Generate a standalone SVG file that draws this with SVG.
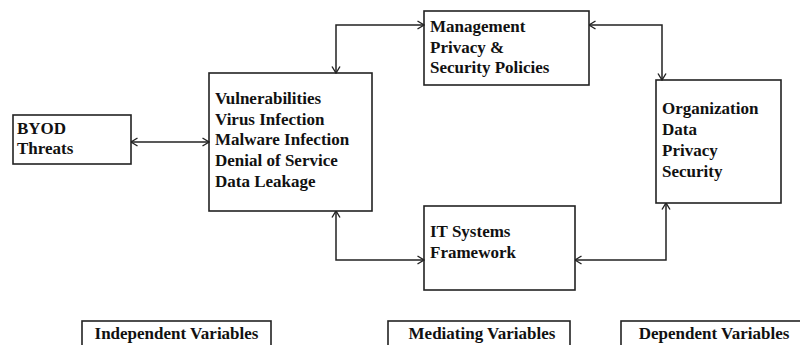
<svg xmlns="http://www.w3.org/2000/svg" width="800" height="345" viewBox="0 0 800 345">
<style>
.box{fill:#fff;stroke:#222;stroke-width:1.6}
.t{font-family:"Liberation Serif","Times New Roman",serif;font-weight:bold;font-size:17px;fill:#111}
.c{fill:none;stroke:#222;stroke-width:1.5}
</style>
<defs>
<marker id="a" viewBox="0 0 8 10" refX="7.5" refY="5" markerWidth="8" markerHeight="10" markerUnits="userSpaceOnUse" orient="auto-start-reverse">
<path d="M1,1 L7.5,5 L1,9" fill="none" stroke="#222" stroke-width="1.4"/>
</marker>
</defs>
<rect width="800" height="345" fill="#fff"/>
<g id="byod">
<rect class="box" x="13" y="115" width="118" height="49"/>
<text class="t" x="17" y="134">BYOD</text>
<text class="t" x="17" y="154">Threats</text>
</g>
<g id="threats">
<rect class="box" x="209" y="73" width="163" height="138"/>
<text class="t" x="215" y="104">Vulnerabilities</text>
<text class="t" x="215" y="125">Virus Infection</text>
<text class="t" x="215" y="145">Malware Infection</text>
<text class="t" x="215" y="166">Denial of Service</text>
<text class="t" x="215" y="187">Data Leakage</text>
</g>
<g id="management">
<rect class="box" x="424" y="11" width="165" height="74"/>
<text class="t" x="430" y="32">Management</text>
<text class="t" x="430" y="53">Privacy &amp;</text>
<text class="t" x="430" y="73">Security Policies</text>
</g>
<g id="itsystems">
<rect class="box" x="424" y="206" width="151" height="84"/>
<text class="t" x="430" y="237">IT Systems</text>
<text class="t" x="430" y="258">Framework</text>
</g>
<g id="organization">
<rect class="box" x="656" y="80" width="125" height="123"/>
<text class="t" x="662" y="114">Organization</text>
<text class="t" x="662" y="135">Data</text>
<text class="t" x="662" y="156">Privacy</text>
<text class="t" x="662" y="177">Security</text>
</g>
<g id="independent">
<rect class="box" x="82" y="321" width="189" height="40"/>
<text class="t" x="176.5" y="339" text-anchor="middle">Independent Variables</text>
</g>
<g id="mediating">
<rect class="box" x="388" y="321" width="182" height="40"/>
<text class="t" x="482" y="339" text-anchor="middle">Mediating Variables</text>
</g>
<g id="dependent">
<rect class="box" x="621" y="321" width="200" height="40"/>
<text class="t" x="714" y="339" text-anchor="middle">Dependent Variables</text>
</g>
<g id="connectors">
<path class="c" d="M131,142 H209" marker-start="url(#a)" marker-end="url(#a)"/>
<path class="c" d="M336,73 V25 H424" marker-start="url(#a)" marker-end="url(#a)"/>
<path class="c" d="M589,25 H662 V80" marker-start="url(#a)" marker-end="url(#a)"/>
<path class="c" d="M336,211 V260 H424" marker-start="url(#a)" marker-end="url(#a)"/>
<path class="c" d="M575,260 H666 V203" marker-start="url(#a)" marker-end="url(#a)"/>
</g>
</svg>
